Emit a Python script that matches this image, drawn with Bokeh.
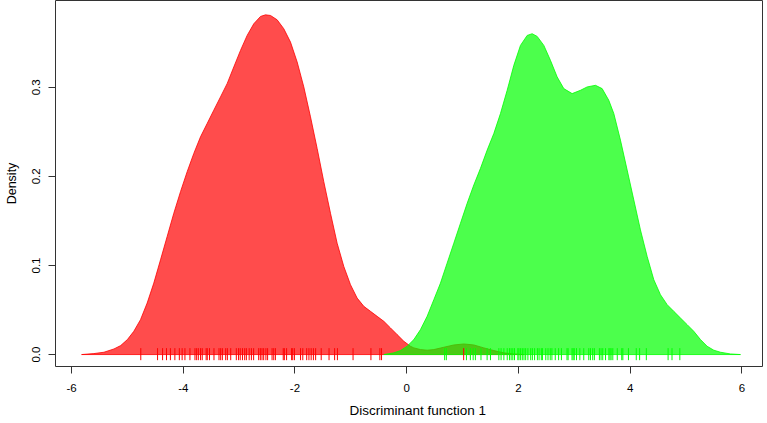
from bokeh.plotting import figure
from bokeh.models import ColumnDataSource, FixedTicker, Range1d, Title
from bokeh.embed import file_html
from bokeh.resources import INLINE

# ---- data ----
# density curve of group 1 (red)
red_x = [-5.82, -5.60, -5.42, -5.24, -5.12, -5.00, -4.885, -4.765, -4.646, -4.527,
         -4.407, -4.288, -4.169, -4.049, -3.930, -3.811, -3.691, -3.572, -3.453, -3.333,
         -3.214, -3.095, -2.975, -2.856, -2.737, -2.617, -2.528, -2.438, -2.319, -2.200,
         -2.080, -1.961, -1.842, -1.722, -1.603, -1.484, -1.364, -1.245, -1.126, -1.006,
         -0.887, -0.767, -0.648, -0.529, -0.409, -0.290, -0.171, -0.051, 0.068, 0.128,
         0.247, 0.366, 0.486, 0.665, 0.844, 1.023, 1.202, 1.381, 1.560, 1.739, 1.918, 2.097]
red_y = [0.0, 0.0011, 0.0026, 0.0063, 0.0101, 0.0168, 0.0261, 0.0392, 0.0578, 0.0802,
         0.1063, 0.1325, 0.1586, 0.1828, 0.2052, 0.2257, 0.2444, 0.2593, 0.2743, 0.2892,
         0.3041, 0.3228, 0.3414, 0.3582, 0.3713, 0.3795, 0.3813, 0.3806, 0.3757, 0.3657,
         0.3507, 0.3284, 0.3004, 0.2668, 0.2313, 0.1940, 0.1586, 0.1250, 0.0989, 0.0784,
         0.0634, 0.0541, 0.0485, 0.0429, 0.0373, 0.0299, 0.0224, 0.0149, 0.0093, 0.0075,
         0.0056, 0.0049, 0.0056, 0.0082, 0.0108, 0.0119, 0.0108, 0.0075, 0.0045, 0.0019,
         0.0007, 0.0]

# density curve of group 2 (green)
green_x = [-0.409, -0.230, -0.111, 0.008, 0.128, 0.247, 0.366, 0.486, 0.605, 0.724,
           0.844, 0.963, 1.083, 1.202, 1.321, 1.441, 1.560, 1.679, 1.799, 1.918,
           2.037, 2.157, 2.246, 2.336, 2.455, 2.574, 2.694, 2.813, 2.962, 3.111,
           3.231, 3.380, 3.499, 3.618, 3.708, 3.827, 3.947, 4.066, 4.185, 4.305,
           4.424, 4.543, 4.663, 4.782, 4.902, 5.021, 5.140, 5.260, 5.379, 5.498,
           5.618, 5.797, 5.976]
green_y = [0.0, 0.0019, 0.0045, 0.0093, 0.0168, 0.0280, 0.0429, 0.0616, 0.0802, 0.1026,
           0.1250, 0.1474, 0.1698, 0.1903, 0.2090, 0.2295, 0.2481, 0.2705, 0.2966, 0.3246,
           0.3470, 0.3582, 0.3601, 0.3571, 0.3470, 0.3302, 0.3116, 0.2985, 0.2929, 0.2966,
           0.3004, 0.3022, 0.2985, 0.2854, 0.2705, 0.2407, 0.2071, 0.1735, 0.1399, 0.1101,
           0.0840, 0.0672, 0.0560, 0.0485, 0.0410, 0.0336, 0.0261, 0.0168, 0.0093, 0.0049,
           0.0026, 0.0007, 0.0]

# observations (rug) of each group
red_rug = [-4.76, -4.46, -4.37, -4.30, -4.23, -4.15, -4.07, -4.02, -3.97, -3.88, -3.79, -3.76,
           -3.73, -3.69, -3.66, -3.59, -3.57, -3.53, -3.45, -3.36, -3.33, -3.30, -3.24, -3.21,
           -3.15, -3.05, -3.01, -2.98, -2.94, -2.90, -2.87, -2.82, -2.78, -2.74, -2.65, -2.62,
           -2.59, -2.56, -2.52, -2.49, -2.41, -2.38, -2.35, -2.21, -2.19, -2.15, -2.06, -2.04,
           -2.01, -1.90, -1.86, -1.79, -1.75, -1.71, -1.67, -1.63, -1.53, -1.39, -1.29, -1.24,
           -0.96, -0.64, -0.48, -0.45, 1.02]
green_rug = [0.68, 0.71, 1.07, 1.14, 1.19, 1.23, 1.33, 1.44, 1.50, 1.65, 1.69, 1.74, 1.80,
             1.84, 1.87, 1.90, 1.93, 1.99, 2.01, 2.04, 2.07, 2.10, 2.13, 2.17, 2.22, 2.25,
             2.29, 2.34, 2.37, 2.41, 2.43, 2.49, 2.53, 2.57, 2.60, 2.66, 2.72, 2.77, 2.87,
             2.89, 2.96, 2.98, 3.00, 3.04, 3.10, 3.17, 3.26, 3.29, 3.33, 3.36, 3.45, 3.48,
             3.51, 3.56, 3.62, 3.64, 3.66, 3.69, 3.77, 3.85, 3.87, 3.97, 4.11, 4.17, 4.29,
             4.68, 4.75, 4.89]

x_ticks = [-6, -4, -2, 0, 2, 4, 6]
x_tick_labels = ["-6", "-4", "-2", "0", "2", "4", "6"]
y_ticks = [0.0, 0.1, 0.2, 0.3]
y_tick_labels = ["0.0", "0.1", "0.2", "0.3"]
x_title = "Discriminant function 1"
y_title = "Density"

# ---- figure ----
FONT = "Liberation Sans"
p = figure(width=766, height=423, output_backend="svg", toolbar_location=None,
           x_range=Range1d(-6.287, 6.370), y_range=Range1d(-0.0134, 0.3974),
           min_border_left=55, min_border_right=4, min_border_top=0, min_border_bottom=56)
p.grid.visible = False
p.background_fill_color = "white"
p.border_fill_color = "white"
p.outline_line_color = "#333333"
p.outline_line_width = 1

red_src = ColumnDataSource(dict(x=red_x, y=red_y))
green_src = ColumnDataSource(dict(x=green_x, y=green_y))
p.patch("x", "y", source=red_src, fill_color="#ff0000", fill_alpha=0.7,
        line_color="#ff0000", line_alpha=0.8, line_width=1)
p.patch("x", "y", source=green_src, fill_color="#00ff00", fill_alpha=0.7,
        line_color="#00ff00", line_alpha=0.8, line_width=1)

rug_lo, rug_hi = -0.0063, 0.0072
p.segment(x0=red_rug, y0=[rug_lo] * len(red_rug), x1=red_rug, y1=[rug_hi] * len(red_rug),
          line_color="#ff0000", line_width=1)
p.segment(x0=green_rug, y0=[rug_lo] * len(green_rug), x1=green_rug, y1=[rug_hi] * len(green_rug),
          line_color="#00ff00", line_width=1)

for ax in (p.xaxis[0], p.yaxis[0]):
    ax.axis_line_color = None
    ax.major_tick_line_color = "#333333"
    ax.major_tick_out = 7
    ax.major_tick_in = 0
    ax.minor_tick_line_color = None
    ax.major_label_text_font = FONT
    ax.major_label_text_font_size = "11.5px"
    ax.major_label_text_color = "black"
    ax.axis_label_text_font = FONT
    ax.axis_label_text_font_size = "12.5px"
    ax.axis_label_text_font_style = "normal"
    ax.axis_label_text_color = "black"

p.xaxis.ticker = FixedTicker(ticks=x_ticks)
p.yaxis.ticker = FixedTicker(ticks=y_ticks)
p.xaxis.major_label_overrides = dict(zip(x_ticks, x_tick_labels))
p.yaxis.major_label_overrides = dict(zip(y_ticks, y_tick_labels))
p.yaxis.major_label_orientation = "vertical"
p.xaxis.major_label_standoff = 10
p.yaxis.major_label_standoff = 8
p.yaxis.axis_label = y_title
p.yaxis.axis_label_standoff = 11

# x-axis title, placed like the reference's (slightly right of frame centre)
p.add_layout(Title(text=x_title, align="left", offset=294, standoff=12,
                   text_font=FONT, text_font_size="13.5px", text_font_style="normal",
                   text_color="black"), "below")

open("out.html", "w").write(file_html(p, INLINE))
